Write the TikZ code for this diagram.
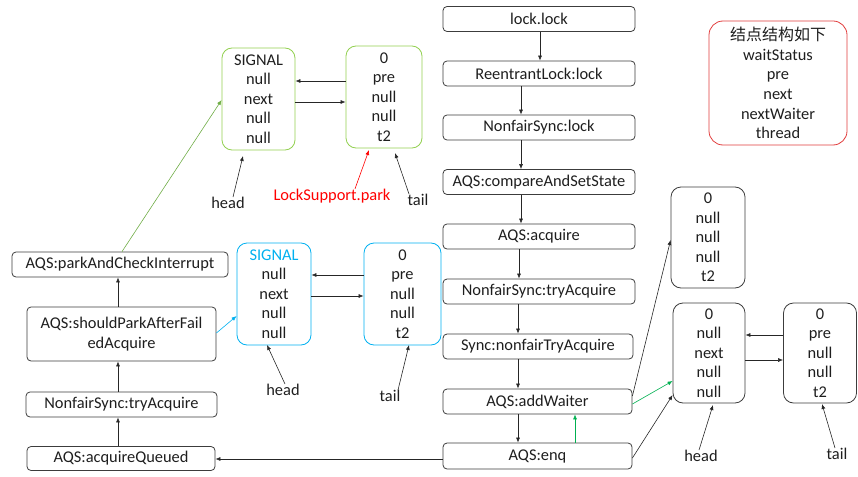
\documentclass[tikz,border=0pt]{standalone}
\usepackage{fontspec}
\setmainfont{Carlito}
\newfontfamily\cjk{Noto Sans CJK SC}
\usetikzlibrary{arrows.meta}
\definecolor{boxgray}{RGB}{60,60,60}
\definecolor{txtgray}{RGB}{30,30,30}
\definecolor{lgreen}{RGB}{146,208,80}
\definecolor{lblue}{RGB}{0,176,240}
\definecolor{dgreen}{RGB}{0,176,80}
\definecolor{legred}{RGB}{225,60,60}
\definecolor{arrgreen}{RGB}{112,173,71}
\tikzset{
  fnbox/.style={draw=boxgray, text=txtgray, line width=0.8pt, rounded corners=4pt, inner sep=0pt, align=center, font=\fontsize{16.4}{19.5}\selectfont},
  databox/.style={line width=0.8pt, text=txtgray, rounded corners=10pt, inner sep=0pt, align=center, font=\fontsize{16.4}{19.6}\selectfont},
  lbl/.style={inner sep=0pt, text=txtgray, font=\fontsize{16.4}{19.5}\selectfont},
  arr/.style={-{Latex[length=5pt,width=4pt]}, line width=0.6pt, draw=black!85},
}
\begin{document}
\begin{tikzpicture}[x=1pt,y=-1pt]
\useasboundingbox (0,0) rectangle (858,476);
% center column
\node[fnbox, minimum width=192, minimum height=25] (ll) at (539,19) {lock.lock};
\node[fnbox, minimum width=192, minimum height=25] (rl) at (539,73.5) {ReentrantLock:lock};
\node[fnbox, minimum width=192, minimum height=25] (nl) at (539,127.5) {NonfairSync:lock};
\node[fnbox, minimum width=192, minimum height=25] (cas) at (539,182) {AQS:compareAndSetState};
\node[fnbox, minimum width=192, minimum height=25] (acq) at (539,236.5) {AQS:acquire};
\node[fnbox, minimum width=192, minimum height=25] (nta) at (539,291.5) {NonfairSync:tryAcquire};
\node[fnbox, minimum width=190, minimum height=25] (snta) at (538,346.5) {Sync:nonfairTryAcquire};
\node[fnbox, minimum width=189, minimum height=25] (aw) at (537.5,401.5) {AQS:addWaiter};
\node[fnbox, minimum width=189, minimum height=26] (enq) at (537.5,456) {AQS:enq};
% left column
\node[fnbox, minimum width=216, minimum height=25] (pci) at (120,264.5) {AQS:parkAndCheckInterrupt};
\node[fnbox, minimum width=189, minimum height=54] (spa) at (121.5,334) {AQS:shouldParkAfterFail\\edAcquire};
\node[fnbox, minimum width=191, minimum height=25] (nta2) at (121.5,404.5) {NonfairSync:tryAcquire};
\node[fnbox, minimum width=188, minimum height=24] (aq) at (121,458.5) {AQS:acquireQueued};
% green data nodes
\node[databox, draw=lgreen, minimum width=73, minimum height=102] (g1) at (258.5,99) {SIGNAL\\null\\next\\null\\null};
\node[databox, draw=lgreen, minimum width=76, minimum height=102] (g2) at (384,97) {0\\pre\\null\\null\\t2};
% blue data nodes
\node[databox, draw=lblue, minimum width=74, minimum height=102] (b1) at (274,294) {\textcolor{lblue}{SIGNAL}\\null\\next\\null\\null};
\node[databox, draw=lblue, minimum width=77, minimum height=102] (b2) at (402.5,294) {0\\pre\\null\\null\\t2};
% right data nodes
\node[databox, draw=boxgray, minimum width=74, minimum height=101] (r1) at (708,237.5) {0\\null\\null\\null\\t2};
\node[databox, draw=boxgray, minimum width=72, minimum height=100] (r2) at (709,353) {0\\null\\next\\null\\null};
\node[databox, draw=boxgray, minimum width=73, minimum height=100] (r3) at (820,353) {0\\pre\\null\\null\\t2};
% legend
\node[databox, draw=legred, minimum width=138, minimum height=124, rounded corners=14pt] (leg) at (778,83) {{\cjk\fontsize{16}{19.5}\selectfont 结点结构如下}\\waitStatus\\pre\\next\\nextWaiter\\thread};
% labels
\node[lbl] (h1) at (228,203) {head};
\node[lbl, text=red] (lsp) at (332,196) {LockSupport.park};
\node[lbl] (t1) at (418,200) {tail};
\node[lbl] (h2) at (283,390) {head};
\node[lbl] (t2) at (390,396) {tail};
\node[lbl] (h3) at (701,456) {head};
\node[lbl] (t3) at (837,454) {tail};
% center column arrows
\draw[arr] (ll.south -| 540,0) -- (rl.north -| 540,0);
\draw[arr] (rl.south -| 521,0) -- (nl.north -| 521,0);
\draw[arr] (nl.south -| 521,0) -- (cas.north -| 521,0);
\draw[arr] (cas.south -| 521,0) -- (acq.north -| 521,0);
\draw[arr] (acq.south -| 519,0) -- (nta.north -| 519,0);
\draw[arr] (nta.south -| 518,0) -- (snta.north -| 518,0);
\draw[arr] (snta.south -| 518,0) -- (aw.north -| 518,0);
\draw[arr] (aw.south -| 518,0) -- (enq.north -| 518,0);
\draw[arr, draw=dgreen] (enq.north -| 575,0) -- (aw.south -| 575,0);
% enq to acquireQueued
\draw[arr] (enq.west |- 0,459) -- (aq.east |- 0,459);
% left column arrows
\draw[arr] (aq.north -| 118,0) -- (nta2.south -| 118,0);
\draw[arr] (nta2.north -| 118,0) -- (spa.south -| 118,0);
\draw[arr] (spa.north -| 118,0) -- (pci.south -| 118,0);
% green link
\draw[arr, draw=arrgreen] (pci.north -| 122,0) -- (g1.west |- 0,100);
% blue link
\draw[arr, draw=lblue] (spa.east |- 0,333) -- (b1.west |- 0,316);
% green pair arrows
\draw[arr] (g2.west |- 0,81) -- (g1.east |- 0,81);
\draw[arr] (g1.east |- 0,102) -- (g2.west |- 0,102);
\draw[arr] (h1.north -| 233,0) -- (243,156);
\draw[arr, draw=red] (lsp.north -| 355,0) -- (369,150);
\draw[arr] (t1.north -| 409,0) -- (395,153);
% blue pair arrows
\draw[arr] (b2.west |- 0,275) -- (b1.east |- 0,275);
\draw[arr] (b1.east |- 0,296) -- (b2.west |- 0,296);
\draw[arr] (h2.north -| 285,0) -- (267,345);
\draw[arr] (t2.north -| 398,0) -- (409,345);
% right side arrows
\draw[arr] (aw.east |- 0,396) -- (r1.west |- 0,240);
\draw[arr, draw=dgreen] (aw.east |- 0,404) -- (r2.west |- 0,381);
\draw[arr] (enq.east |- 0,458) -- (r2.west |- 0,395);
\draw[arr] (r3.west |- 0,335) -- (r2.east |- 0,335);
\draw[arr] (r2.east |- 0,360) -- (r3.west |- 0,360);
\draw[arr] (h3.north -| 699,0) -- (713,405);
\draw[arr] (t3.north -| 835,0) -- (822,404);
\end{tikzpicture}
\end{document}
